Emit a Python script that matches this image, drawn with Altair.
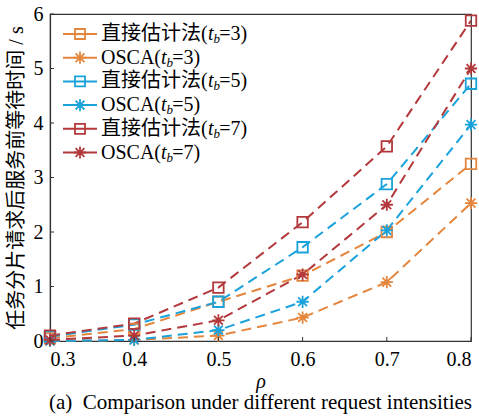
import altair as alt
import pandas as pd

# ---------------- data ----------------
rho = [0.3, 0.4, 0.5, 0.6, 0.7, 0.8]
direct_tb3 = [0.05, 0.22, 0.72, 1.20, 2.00, 3.25]
osca_tb3 = [0.00, 0.02, 0.10, 0.43, 1.08, 2.53]
direct_tb5 = [0.08, 0.30, 0.72, 1.72, 2.88, 4.72]
osca_tb5 = [0.00, 0.02, 0.20, 0.72, 2.03, 3.97]
direct_tb7 = [0.10, 0.32, 0.98, 2.18, 3.57, 5.88]
osca_tb7 = [0.02, 0.10, 0.38, 1.22, 2.50, 5.00]

x_ticks = [0.3, 0.4, 0.5, 0.6, 0.7, 0.8]
y_ticks = [0, 1, 2, 3, 4, 5, 6]

methods = ["直接估计法", "OSCA"]
tbs = ["3", "5", "7"]
colors = ["#E4863E", "#1AA2DB", "#B3383B"]

series = [
    ("直接估计法", "3", direct_tb3),
    ("OSCA", "3", osca_tb3),
    ("直接估计法", "5", direct_tb5),
    ("OSCA", "5", osca_tb5),
    ("直接估计法", "7", direct_tb7),
    ("OSCA", "7", osca_tb7),
]

rows = []
for m, tb, vals in series:
    for r, v in zip(rho, vals):
        rows.append({"rho": r, "value": v, "method": m, "tb": tb, "series": f"{m}(tb={tb})"})
df = pd.DataFrame(rows)

W, H = 421, 327
SERIF = "'Liberation Serif', 'Times New Roman', 'Noto Sans CJK SC', serif"
ASTERISK = "M-1,0L1,0M0,-1L0,1M-0.72,-0.72L0.72,0.72M-0.72,0.72L0.72,-0.72"

xs = alt.Scale(domain=[0.3, 0.8], nice=False, zero=False)
ys = alt.Scale(domain=[0, 6], nice=False)
cs = alt.Scale(domain=tbs, range=colors)

X = alt.X("rho:Q", scale=xs,
          axis=alt.Axis(values=x_ticks, format=".1f", title="ρ", ticks=False, tickSize=0,
                        grid=False, labelPadding=8, titlePadding=2,
                        titleFontStyle="italic", titleFontWeight="normal"))
Y = alt.Y("value:Q", scale=ys,
          axis=alt.Axis(values=y_ticks, format="d", title="任务分片请求后服务前等待时间 / s",
                        ticks=False, tickSize=0, grid=False, labelPadding=7,
                        titleFontWeight="normal", titleX=-34, titleY=H / 2,
                        titleBaseline="middle", titleAlign="center", titleAngle=270))
C = alt.Color("tb:N", scale=cs, legend=None)

base = alt.Chart(df)
lines = base.mark_line(strokeDash=[10, 6], strokeWidth=2).encode(x=X, y=Y, color=C, detail="series:N")
squares = base.transform_filter(alt.datum.method == "直接估计法").mark_point(
    shape="square", size=110, filled=False, strokeWidth=1.8, opacity=1
).encode(x=X, y=Y, color=C)
stars = base.transform_filter(alt.datum.method == "OSCA").mark_point(
    shape=ASTERISK, size=150, filled=False, strokeWidth=1.8, opacity=1
).encode(x=X, y=Y, color=C)

# inward tick marks
xt = alt.Chart(pd.DataFrame({"t": x_ticks})).mark_rule(color="#333", strokeWidth=1).encode(
    x=alt.X("t:Q", scale=xs), y=alt.value(H), y2=alt.value(H - 4))
yt = alt.Chart(pd.DataFrame({"t": y_ticks})).mark_rule(color="#333", strokeWidth=1).encode(
    y=alt.Y("t:Q", scale=ys), x=alt.value(0), x2=alt.value(4))

# manual legend
one = pd.DataFrame({"a": [0]})
legend_layers = []
row_y0, row_dy = 20, 23.7
prefix_w = {"直接估计法": 107, "OSCA": 60}
for i, (m, tb, _) in enumerate(series):
    yv = row_y0 + row_dy * i
    col = colors[tbs.index(tb)]
    legend_layers.append(
        alt.Chart(one).mark_rule(color=col, strokeWidth=2).encode(
            x=alt.value(13), x2=alt.value(47), y=alt.value(yv)))
    legend_layers.append(
        alt.Chart(one).mark_point(shape="square" if m == "直接估计法" else ASTERISK,
                                  size=100 if m == "直接估计法" else 150,
                                  filled=False, strokeWidth=1.8, color=col, opacity=1).encode(
            x=alt.value(30), y=alt.value(yv)))
    x0 = 51
    xt_ = x0 + prefix_w[m]
    pieces = [
        (m + "(", x0, yv, 20, "normal"),
        ("t", xt_, yv, 20, "italic"),
        ("b", xt_ + 5.4, yv + 5, 13, "italic"),
        ("=" + tb + ")", xt_ + 11.2, yv, 20, "normal"),
    ]
    for txt, px, py, fs, st in pieces:
        legend_layers.append(
            alt.Chart(one).mark_text(text=txt, align="left", baseline="middle", font=SERIF,
                                     fontSize=fs, fontStyle=st, color="black").encode(
                x=alt.value(px), y=alt.value(py)))

caption = alt.Chart(one).mark_text(
    text="(a)\u00a0\u00a0Comparison under different request intensities", align="center",
    baseline="middle", font=SERIF, fontSize=21, color="black"
).encode(x=alt.value(W / 2), y=alt.value(389))

chart = alt.layer(lines, squares, stars, xt, yt, *legend_layers, caption).properties(
    width=W, height=H,
    autosize=alt.AutoSizeParams(type="none"),
    padding={"left": 50, "top": 14, "right": 8, "bottom": 76},
).configure_view(stroke="#333", strokeWidth=1.2).configure_axis(
    labelFont=SERIF, labelFontSize=20, labelColor="black",
    titleFont=SERIF, titleFontSize=20, titleColor="black",
    domainColor="#333", domainWidth=1.2,
).configure_axisY(titleFontSize=20)

chart.save("out.html", embed_options={"renderer": "svg", "actions": False})
